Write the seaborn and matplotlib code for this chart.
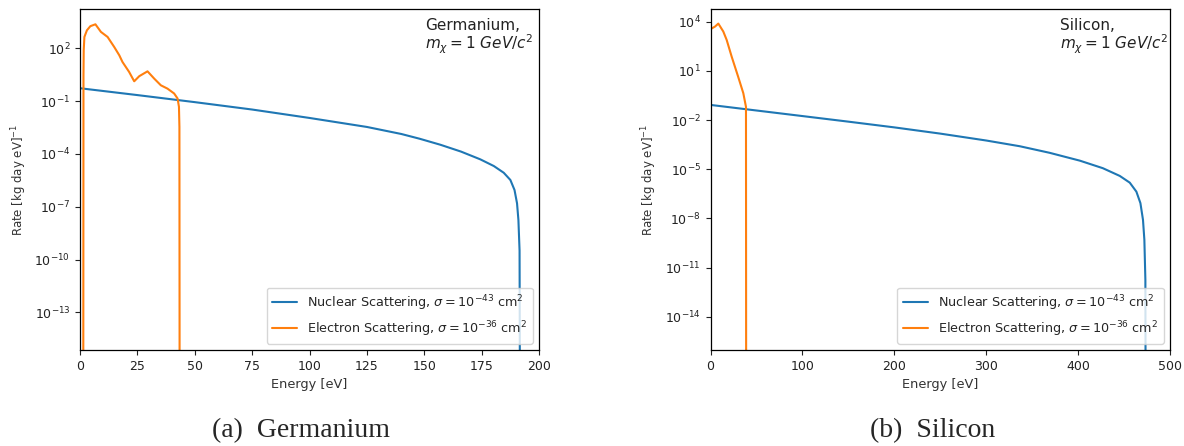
import matplotlib
matplotlib.use("Agg")
import matplotlib.pyplot as plt
import seaborn as sns

# Germanium, nuclear scattering (energy in eV, rate in [kg day eV]^-1)
ge_nuc_energy = [0, 25, 50, 75, 100, 125, 140, 148, 157, 166, 174.4, 180.3,
                 184.6, 187.5, 189.3, 190.4, 191.0, 191.5, 191.7]
ge_nuc_rate = [5.37e-1, 2.19e-1, 8.71e-2, 3.31e-2, 1.10e-2, 3.39e-3, 1.35e-3,
               7.24e-4, 3.31e-4, 1.35e-4, 4.9e-5, 2.04e-5, 8.5e-6, 3.3e-6,
               8.9e-7, 1.55e-7, 1.74e-8, 3.2e-10, 1e-20]

# Germanium, electron scattering
ge_ele_energy = [1.4, 1.5, 1.6, 1.9, 3.0, 4.5, 6.7, 9.1, 12.0, 14.9, 17.1, 18.5,
                 21.4, 23.6, 25.8, 29.4, 32.3, 35.2, 38.1, 41.0, 42.5, 43.1,
                 43.3, 43.4]
ge_ele_rate = [1e-20, 3, 78, 440, 1050, 1800, 2300, 850, 440, 118, 40, 16.6,
               4.5, 1.33, 2.6, 4.9, 1.9, 0.79, 0.51, 0.27, 0.14, 0.047,
               3.4e-3, 1e-20]

# Silicon, nuclear scattering
si_nuc_energy = [0, 50, 100, 150, 200, 250, 300, 336.6, 369, 402, 427, 445.4,
                 456.3, 463.5, 467.9, 470.7, 472.2, 473.3, 473.6]
si_nuc_rate = [8.32e-2, 3.80e-2, 1.74e-2, 7.94e-3, 3.55e-3, 1.48e-3, 5.62e-4,
               2.51e-4, 1.0e-4, 3.31e-5, 1.15e-5, 3.89e-6, 1.51e-6, 4.27e-7,
               8.5e-8, 8.1e-9, 4.9e-10, 1.78e-12, 1e-20]

# Silicon, electron scattering
si_ele_energy = [0, 4.9, 8.5, 13.9, 17.6, 23, 30, 35.7, 38.6, 38.8]
si_ele_rate = [3.5e3, 5e3, 7.6e3, 2.5e3, 7.6e2, 74, 4.5, 0.43, 0.063, 1e-20]

ge_yticks = [1e-13, 1e-10, 1e-7, 1e-4, 1e-1, 1e2]
si_yticks = [1e-14, 1e-11, 1e-8, 1e-5, 1e-2, 1e1, 1e4]
ge_xticks = [0, 25, 50, 75, 100, 125, 150, 175, 200]
si_xticks = [0, 100, 200, 300, 400, 500]

nuc_label = r"Nuclear Scattering, $\sigma = 10^{-43}$ cm$^2$"
ele_label = r"Electron Scattering, $\sigma = 10^{-36}$ cm$^2$"

sns.set_style("ticks")
plt.rcParams['font.family'] = ['DejaVu Sans']
plt.rcParams['axes.edgecolor'] = 'black'

fig = plt.figure(figsize=(11.84, 4.46), dpi=100)
ax_ge = fig.add_axes([0.0676, 0.2152, 0.3877, 0.7646])
ax_si = fig.add_axes([0.6001, 0.2152, 0.3880, 0.7646])


def draw_panel(ax, nuc_x, nuc_y, ele_x, ele_y, xlim, ylim, xticks, yticks,
               title, tx):
    sns.lineplot(x=nuc_x, y=nuc_y, ax=ax, color='#1f77b4', linewidth=1.5,
                 estimator=None, sort=False, label=nuc_label)
    sns.lineplot(x=ele_x, y=ele_y, ax=ax, color='#ff7f0e', linewidth=1.5,
                 estimator=None, sort=False, label=ele_label)
    ax.set_yscale('log')
    ax.set_xlim(*xlim)
    ax.set_ylim(*ylim)
    ax.set_xticks(xticks)
    ax.set_yticks(yticks)
    ax.yaxis.set_minor_locator(plt.NullLocator())
    ax.tick_params(labelsize=9, length=3.5, width=0.8, colors='#222222')
    ax.set_xlabel('Energy [eV]', fontsize=9.3, color='#333333')
    ax.set_ylabel(r'Rate [kg day eV]$^{-1}$', fontsize=8.5, color='#333333')
    for s in ax.spines.values():
        s.set_linewidth(0.9)
    ax.legend(loc='lower right', fontsize=9.2, handlelength=2.0)
    ax.text(tx, 0.975, title + ",\n" + r"$m_\chi = 1\ GeV/c^2$",
            transform=ax.transAxes, ha='left', va='top', fontsize=11,
            color='#222222', linespacing=1.0)


draw_panel(ax_ge, ge_nuc_energy, ge_nuc_rate, ge_ele_energy, ge_ele_rate,
           (0, 200), (10 ** -15.14, 10 ** 4.23), ge_xticks, ge_yticks,
           'Germanium', 0.752)
draw_panel(ax_si, si_nuc_energy, si_nuc_rate, si_ele_energy, si_ele_rate,
           (0, 500), (10 ** -16.03, 10 ** 4.77), si_xticks, si_yticks,
           'Silicon', 0.761)

fig.text(301 / 1184, 1 - 437 / 446, '(a)  Germanium', ha='center',
         va='baseline', fontsize=20, family='Liberation Serif')
fig.text(933 / 1184, 1 - 437 / 446, '(b)  Silicon', ha='center',
         va='baseline', fontsize=20, family='Liberation Serif')

fig.savefig('out.png', dpi=100)
